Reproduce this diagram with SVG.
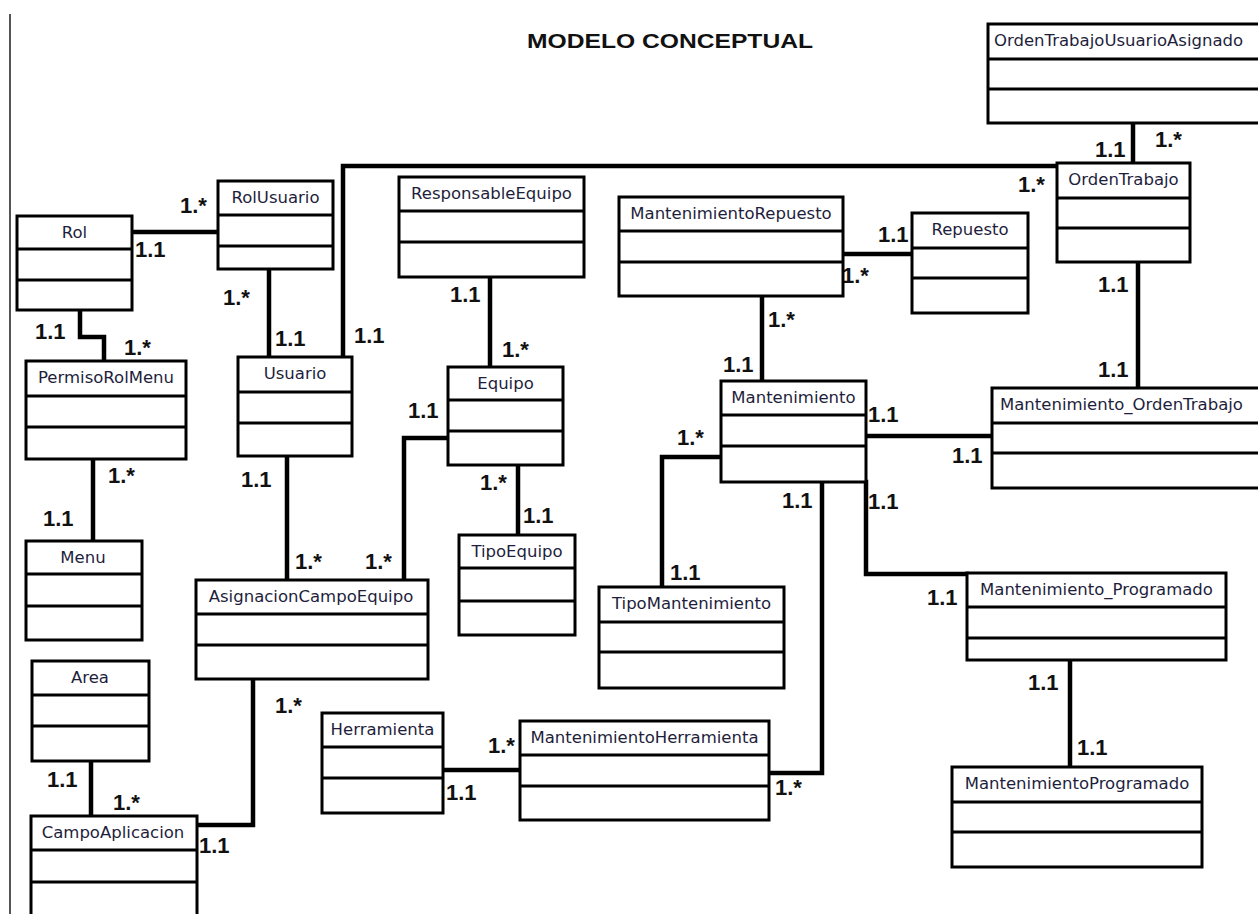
<svg xmlns="http://www.w3.org/2000/svg" width="1258" height="914" viewBox="0 0 1258 914">
  <defs>
    <style>
      .box { fill: #ffffff; stroke: #000000; stroke-width: 3; }
      .div { stroke: #000000; stroke-width: 3; }
      .name { font-family: "DejaVu Sans", "Liberation Sans", sans-serif; font-size: 16.5px; fill: #1e1e3c; text-anchor: middle; }
      .name-l { text-anchor: start; }
      .conn { fill: none; stroke: #000000; stroke-width: 4.5; stroke-linejoin: miter; stroke-linecap: square; }
      .mult { font-family: "Liberation Sans", Arial, sans-serif; font-weight: bold; font-size: 22px; fill: #111111; }
      .title { font-family: "Liberation Sans", Arial, sans-serif; font-weight: bold; font-size: 21px; fill: #111111; }
    </style>
  </defs>

  <rect x="0" y="0" width="1258" height="914" fill="#ffffff"/>

  <!-- page margin rule -->
  <line x1="10" y1="14" x2="10" y2="914" stroke="#555555" stroke-width="2"/>

  <text class="title" x="527" y="48" textLength="286" lengthAdjust="spacingAndGlyphs">MODELO CONCEPTUAL</text>

  <!-- associations -->
  <g id="connectors">
    <path class="conn" d="M132 232 H218"/>
    <path class="conn" d="M80 310 V337 H104 V361"/>
    <path class="conn" d="M269 269 V357"/>
    <path class="conn" d="M343 357 V166 H1057"/>
    <path class="conn" d="M93 459 V541"/>
    <path class="conn" d="M287 456 V580"/>
    <path class="conn" d="M448 438 H404 V580"/>
    <path class="conn" d="M253 679 V825 H197"/>
    <path class="conn" d="M91 761 V816"/>
    <path class="conn" d="M490 277 V367"/>
    <path class="conn" d="M518 465 V535"/>
    <path class="conn" d="M443 770 H520"/>
    <path class="conn" d="M822 482 V773 H769"/>
    <path class="conn" d="M843 254 H912"/>
    <path class="conn" d="M762 296 V381"/>
    <path class="conn" d="M721 457 H662 V587"/>
    <path class="conn" d="M866 436 H992"/>
    <path class="conn" d="M866 482 V574 H967"/>
    <path class="conn" d="M1133 123 V163"/>
    <path class="conn" d="M1138 262 V388"/>
    <path class="conn" d="M1070 660 V767"/>

    <!-- multiplicities -->
    <text class="mult" x="180" y="213">1.*</text>
    <text class="mult" x="135" y="257">1.1</text>
    <text class="mult" x="35" y="339">1.1</text>
    <text class="mult" x="124" y="355">1.*</text>
    <text class="mult" x="223" y="305">1.*</text>
    <text class="mult" x="275" y="346">1.1</text>
    <text class="mult" x="354" y="343">1.1</text>
    <text class="mult" x="1018" y="192">1.*</text>
    <text class="mult" x="108" y="483">1.*</text>
    <text class="mult" x="43" y="526">1.1</text>
    <text class="mult" x="241" y="487">1.1</text>
    <text class="mult" x="295" y="569">1.*</text>
    <text class="mult" x="408" y="418">1.1</text>
    <text class="mult" x="365" y="569">1.*</text>
    <text class="mult" x="275" y="713">1.*</text>
    <text class="mult" x="199" y="853">1.1</text>
    <text class="mult" x="47" y="787">1.1</text>
    <text class="mult" x="113" y="810">1.*</text>
    <text class="mult" x="450" y="302">1.1</text>
    <text class="mult" x="502" y="357">1.*</text>
    <text class="mult" x="480" y="490">1.*</text>
    <text class="mult" x="523" y="523">1.1</text>
    <text class="mult" x="488" y="753">1.*</text>
    <text class="mult" x="446" y="800">1.1</text>
    <text class="mult" x="782" y="508">1.1</text>
    <text class="mult" x="775" y="795">1.*</text>
    <text class="mult" x="878" y="242">1.1</text>
    <text class="mult" x="842" y="283">1.*</text>
    <text class="mult" x="768" y="327">1.*</text>
    <text class="mult" x="723" y="372">1.1</text>
    <text class="mult" x="677" y="445">1.*</text>
    <text class="mult" x="670" y="580">1.1</text>
    <text class="mult" x="868" y="422">1.1</text>
    <text class="mult" x="952" y="463">1.1</text>
    <text class="mult" x="868" y="509">1.1</text>
    <text class="mult" x="927" y="605">1.1</text>
    <text class="mult" x="1095" y="157">1.1</text>
    <text class="mult" x="1155" y="147">1.*</text>
    <text class="mult" x="1098" y="292">1.1</text>
    <text class="mult" x="1098" y="377">1.1</text>
    <text class="mult" x="1028" y="690">1.1</text>
    <text class="mult" x="1077" y="755">1.1</text>
  </g>

  <!-- classes -->
  <g id="Rol">
    <rect class="box" x="17" y="216" width="115" height="94"/>
    <line class="div" x1="17" y1="249" x2="132" y2="249"/>
    <line class="div" x1="17" y1="280" x2="132" y2="280"/>
    <text class="name" x="74.5" y="238">Rol</text>
  </g>
  <g id="RolUsuario">
    <rect class="box" x="218" y="181" width="115" height="88"/>
    <line class="div" x1="218" y1="215" x2="333" y2="215"/>
    <line class="div" x1="218" y1="246" x2="333" y2="246"/>
    <text class="name" x="275.5" y="203">RolUsuario</text>
  </g>
  <g id="PermisoRolMenu">
    <rect class="box" x="26" y="361" width="160" height="98"/>
    <line class="div" x1="26" y1="396" x2="186" y2="396"/>
    <line class="div" x1="26" y1="427" x2="186" y2="427"/>
    <text class="name" x="106" y="383">PermisoRolMenu</text>
  </g>
  <g id="Usuario">
    <rect class="box" x="238" y="357" width="114" height="99"/>
    <line class="div" x1="238" y1="392" x2="352" y2="392"/>
    <line class="div" x1="238" y1="423" x2="352" y2="423"/>
    <text class="name" x="295" y="379">Usuario</text>
  </g>
  <g id="Menu">
    <rect class="box" x="26" y="541" width="116" height="99"/>
    <line class="div" x1="26" y1="574" x2="142" y2="574"/>
    <line class="div" x1="26" y1="606" x2="142" y2="606"/>
    <text class="name" x="83" y="563">Menu</text>
  </g>
  <g id="AsignacionCampoEquipo">
    <rect class="box" x="196" y="580" width="232" height="99"/>
    <line class="div" x1="196" y1="614" x2="428" y2="614"/>
    <line class="div" x1="196" y1="645" x2="428" y2="645"/>
    <text class="name" x="311" y="602">AsignacionCampoEquipo</text>
  </g>
  <g id="Area">
    <rect class="box" x="32" y="661" width="117" height="100"/>
    <line class="div" x1="32" y1="695" x2="149" y2="695"/>
    <line class="div" x1="32" y1="726" x2="149" y2="726"/>
    <text class="name" x="90" y="683">Area</text>
  </g>
  <g id="CampoAplicacion">
    <rect class="box" x="31" y="816" width="166" height="120"/>
    <line class="div" x1="31" y1="850" x2="197" y2="850"/>
    <line class="div" x1="31" y1="882" x2="197" y2="882"/>
    <text class="name" x="113" y="838">CampoAplicacion</text>
  </g>
  <g id="ResponsableEquipo">
    <rect class="box" x="399" y="177" width="185" height="100"/>
    <line class="div" x1="399" y1="211" x2="584" y2="211"/>
    <line class="div" x1="399" y1="242" x2="584" y2="242"/>
    <text class="name" x="491.5" y="199">ResponsableEquipo</text>
  </g>
  <g id="Equipo">
    <rect class="box" x="448" y="367" width="115" height="98"/>
    <line class="div" x1="448" y1="400" x2="563" y2="400"/>
    <line class="div" x1="448" y1="431" x2="563" y2="431"/>
    <text class="name" x="505.5" y="389">Equipo</text>
  </g>
  <g id="TipoEquipo">
    <rect class="box" x="459" y="535" width="116" height="100"/>
    <line class="div" x1="459" y1="568" x2="575" y2="568"/>
    <line class="div" x1="459" y1="601" x2="575" y2="601"/>
    <text class="name" x="517" y="557">TipoEquipo</text>
  </g>
  <g id="Herramienta">
    <rect class="box" x="322" y="713" width="121" height="100"/>
    <line class="div" x1="322" y1="747" x2="443" y2="747"/>
    <line class="div" x1="322" y1="778" x2="443" y2="778"/>
    <text class="name" x="382.5" y="735">Herramienta</text>
  </g>
  <g id="MantenimientoHerramienta">
    <rect class="box" x="520" y="721" width="249" height="99"/>
    <line class="div" x1="520" y1="755" x2="769" y2="755"/>
    <line class="div" x1="520" y1="786" x2="769" y2="786"/>
    <text class="name" x="644.5" y="743">MantenimientoHerramienta</text>
  </g>
  <g id="MantenimientoRepuesto">
    <rect class="box" x="619" y="197" width="224" height="99"/>
    <line class="div" x1="619" y1="231" x2="843" y2="231"/>
    <line class="div" x1="619" y1="262" x2="843" y2="262"/>
    <text class="name" x="731" y="219">MantenimientoRepuesto</text>
  </g>
  <g id="Repuesto">
    <rect class="box" x="912" y="213" width="116" height="100"/>
    <line class="div" x1="912" y1="248" x2="1028" y2="248"/>
    <line class="div" x1="912" y1="278" x2="1028" y2="278"/>
    <text class="name" x="970" y="235">Repuesto</text>
  </g>
  <g id="Mantenimiento">
    <rect class="box" x="721" y="381" width="145" height="101"/>
    <line class="div" x1="721" y1="415" x2="866" y2="415"/>
    <line class="div" x1="721" y1="446" x2="866" y2="446"/>
    <text class="name" x="793.5" y="403">Mantenimiento</text>
  </g>
  <g id="TipoMantenimiento">
    <rect class="box" x="599" y="587" width="185" height="101"/>
    <line class="div" x1="599" y1="622" x2="784" y2="622"/>
    <line class="div" x1="599" y1="652" x2="784" y2="652"/>
    <text class="name" x="691.5" y="609">TipoMantenimiento</text>
  </g>
  <g id="OrdenTrabajoUsuarioAsignado">
    <rect class="box" x="988" y="24" width="290" height="99"/>
    <line class="div" x1="988" y1="59" x2="1278" y2="59"/>
    <line class="div" x1="988" y1="89" x2="1278" y2="89"/>
    <text class="name name-l" x="994" y="46">OrdenTrabajoUsuarioAsignado</text>
  </g>
  <g id="OrdenTrabajo">
    <rect class="box" x="1057" y="163" width="133" height="99"/>
    <line class="div" x1="1057" y1="198" x2="1190" y2="198"/>
    <line class="div" x1="1057" y1="228" x2="1190" y2="228"/>
    <text class="name" x="1123.5" y="185">OrdenTrabajo</text>
  </g>
  <g id="Mantenimiento_OrdenTrabajo">
    <rect class="box" x="992" y="388" width="290" height="100"/>
    <line class="div" x1="992" y1="423" x2="1282" y2="423"/>
    <line class="div" x1="992" y1="453" x2="1282" y2="453"/>
    <text class="name name-l" x="1000" y="410">Mantenimiento_OrdenTrabajo</text>
  </g>
  <g id="Mantenimiento_Programado">
    <rect class="box" x="967" y="573" width="259" height="87"/>
    <line class="div" x1="967" y1="607" x2="1226" y2="607"/>
    <line class="div" x1="967" y1="638" x2="1226" y2="638"/>
    <text class="name" x="1096.5" y="595">Mantenimiento_Programado</text>
  </g>
  <g id="MantenimientoProgramado">
    <rect class="box" x="952" y="767" width="250" height="100"/>
    <line class="div" x1="952" y1="802" x2="1202" y2="802"/>
    <line class="div" x1="952" y1="832" x2="1202" y2="832"/>
    <text class="name" x="1077" y="789">MantenimientoProgramado</text>
  </g>
</svg>
